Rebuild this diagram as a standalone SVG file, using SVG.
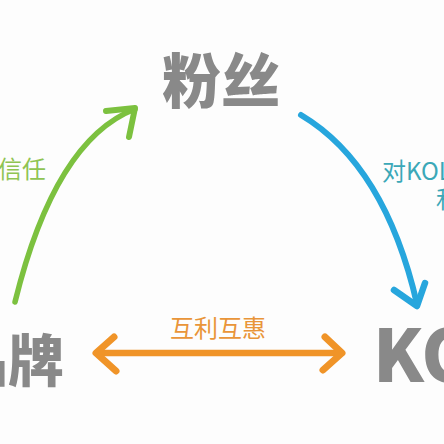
<svg xmlns="http://www.w3.org/2000/svg" width="444" height="444" viewBox="0 0 444 444">
<style>
.node{font-family:"Noto Sans CJK SC","Liberation Sans",sans-serif;font-weight:900;fill:#898989}
.lbl{font-family:"Noto Sans CJK SC","Liberation Sans",sans-serif;font-weight:400;font-size:24px}
.ln{fill:none;stroke-linecap:round;stroke-linejoin:round}
</style>
<rect width="444" height="444" fill="#fdfdfd"/>
<g id="fans"><text class="node" x="221" y="103" font-size="59" text-anchor="middle">粉丝</text></g>
<g id="brand"><text class="node" x="64" y="381" font-size="56" text-anchor="end">品牌</text></g>
<g id="kol"><text class="node" x="373" y="382" font-size="72" font-family="Liberation Sans,sans-serif" font-weight="700">KOL</text></g>
<g id="connectors">
<path class="ln" d="M15,302 Q55,140 135,109" stroke="#7cc13f" stroke-width="5.5"/>
<path class="ln" d="M106,111 L135,108 L129,137" stroke="#7cc13f" stroke-width="6"/>
<path class="ln" d="M301,115 Q385,165 417,304" stroke="#27a6dd" stroke-width="6"/>
<path class="ln" d="M394,290 L417,306 L425,283" stroke="#27a6dd" stroke-width="6.5"/>
<path class="ln" d="M97,353 L341,353" stroke="#f09428" stroke-width="6.5"/>
<path class="ln" d="M114,337 L96,353 L116,371" stroke="#f09428" stroke-width="7"/>
<path class="ln" d="M325,337 L342,353 L323,370" stroke="#f09428" stroke-width="7"/>
</g>
<g id="labels">
<text class="lbl" x="46" y="178" text-anchor="end" fill="#8fc453">的信任</text>
<text class="lbl" x="382" y="180" fill="#3ba8b8">对KOL</text>
<text class="lbl" x="436" y="208" fill="#3ba8b8">和</text>
<text class="lbl" x="218" y="337" text-anchor="middle" fill="#e99539" font-size="25">互利互惠</text>
</g>
</svg>
